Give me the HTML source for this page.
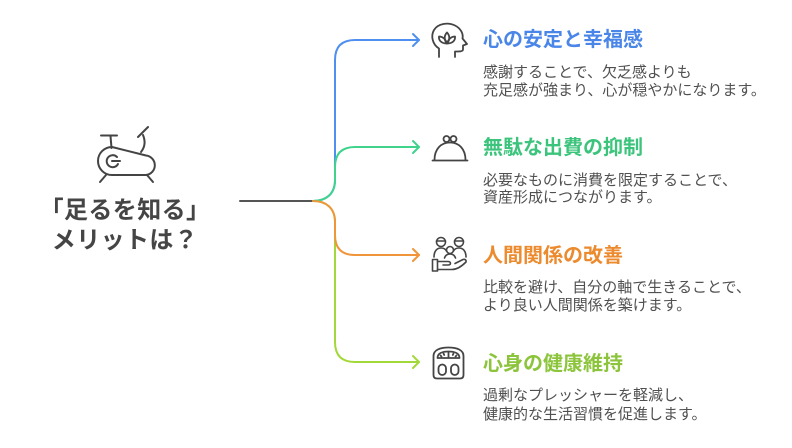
<!DOCTYPE html>
<html>
<head>
<meta charset="utf-8">
<style>
  html,body{margin:0;padding:0;background:#fff;}
  #c{position:relative;width:792px;height:448px;overflow:hidden;background:#fff;
     font-family:"Liberation Sans","Noto Sans CJK JP",sans-serif;}
  .t{position:absolute;left:483px;font-size:20px;line-height:20px;font-weight:700;white-space:nowrap;}
  .d{position:absolute;left:483px;font-size:15px;line-height:18px;color:#505050;white-space:nowrap;}
  .main{position:absolute;left:25px;width:200px;text-align:center;font-size:24px;line-height:30px;font-weight:700;color:#454545;white-space:nowrap;letter-spacing:0.4px;}
  svg{position:absolute;left:0;top:0;}
</style>
</head>
<body>
<div id="c">
<svg width="792" height="448" viewBox="0 0 792 448" fill="none" stroke-linecap="round" stroke-linejoin="round">
  <path d="M240,201 L313,201" stroke="#555" stroke-width="2"/>
  <path d="M313,201 C326,201 335,194 335,180 L335,60 Q335,40 355,40 L419,40" stroke="#4f8ff0" stroke-width="2"/>
  <path d="M413,34 L419,40 L413,46" stroke="#4f8ff0" stroke-width="2"/>
  <path d="M313,201 C326,201 335,208 335,222 L335,342 Q335,362 355,362 L419,362" stroke="#a3d83a" stroke-width="2"/>
  <path d="M413,356 L419,362 L413,368" stroke="#a3d83a" stroke-width="2"/>
  <path d="M313,201 C326,201 335,194 335,180 L335,167 Q335,147 355,147 L419,147" stroke="#3fd38c" stroke-width="2"/>
  <path d="M413,141 L419,147 L413,153" stroke="#3fd38c" stroke-width="2"/>
  <path d="M313,201 C326,201 335,208 335,222 L335,235 Q335,255 355,255 L419,255" stroke="#f0953a" stroke-width="2"/>
  <path d="M413,249 L419,255 L413,261" stroke="#f0953a" stroke-width="2"/>

  <g stroke="#444" stroke-width="2">
    <path d="M112,147 L146,155.5 A9.8,9.8 0 0 1 146,175 L112,175 A14,14 0 0 1 112,147 Z"/>
    <path d="M117,157 A6,6 0 1 0 118,164"/>
    <path d="M112,161 L120,161"/>
    <path d="M101,135.5 L117,135.5"/>
    <path d="M110.5,136 L111.5,148"/>
    <path d="M141,152 C145,147 145.5,141 143,135"/>
    <path d="M138,137 L148,127"/>
    <path d="M106,175 L100,182"/>
    <path d="M147,175 L153,182"/>
  </g>

  <g stroke="#444" stroke-width="1.8">
    <path d="M439,57 L439,48.5 C432.5,44.5 430.5,36 434,30 C438,23.5 448,22 455,25.5 C461,28.5 463.5,34 462.5,38.5 L467,44 L463,45.5 L463,49.5 C463,51 461,51.5 458,51.5 L455,51.5 L455,57"/>
    <path d="M447,43.5 C443.5,39.5 444.5,35 447,32.5 C449.5,35 450.5,39.5 447,43.5 Z"/>
    <path d="M447,43.5 C441.5,43.5 438.5,40.5 439,36.5 C442.5,36.5 445.5,39 447,43.5"/>
    <path d="M447,43.5 C452.5,43.5 455.5,40.5 455,36.5 C451.5,36.5 448.5,39 447,43.5"/>
  </g>

  <g stroke="#444" stroke-width="1.8">
    <path d="M432.5,160.5 L467.5,160.5"/>
    <path d="M434.5,160 C434.5,149 441,142.5 450,142.5 C459,142.5 465.5,149 465.5,160"/>
    <circle cx="446.5" cy="139" r="3"/>
    <circle cx="453.5" cy="139" r="3"/>
  </g>

  <g stroke="#444" stroke-width="1.6">
    <circle cx="441" cy="242" r="4.5"/>
    <path d="M436.5,241 L445.5,241"/>
    <circle cx="459" cy="242" r="4.5"/>
    <path d="M454.5,241 L463.5,241"/>
    <circle cx="450" cy="250" r="3.5"/>
    <path d="M434,257 C434,251 437,248 441,248 C443.5,248 445.5,249 446.5,251"/>
    <path d="M466,257 C466,251 463,248 459,248 C456.5,248 454.5,249 453.5,251"/>
    <path d="M444.5,258 C445.5,255 447.5,254 450,254 C452.5,254 454.5,255 455.5,258"/>
    <rect x="432.5" y="259.5" width="5" height="11.5"/>
    <path d="M437.5,261.5 L448,261.5 C451,261.5 451.5,265 448,265 L443,265"/>
    <path d="M437.5,269.5 L452,269.5 C457,269.5 462,266 466,262 C466.5,260 465,259 463,259.5 L455,263.5"/>
  </g>

  <g stroke="#444" stroke-width="1.8">
    <path d="M433.5,375 L433.5,356 C433.5,350 440,347.5 448.5,347.5 C457,347.5 463.5,350 463.5,356 L463.5,375 C463.5,377.5 462,378.5 460,378.5 L437,378.5 C435,378.5 433.5,377.5 433.5,375 Z"/>
    <path d="M437.5,358 C437.5,353.5 442,351.5 448.5,351.5 C455,351.5 459.5,353.5 459.5,358 Z"/>
    <path d="M448.5,352.5 L448.5,357 M443.5,353.5 L444.2,355 M453.5,353.5 L452.8,355 M440.5,355.5 L441.5,356.5 M456.5,355.5 L455.5,356.5"/>
    <rect x="438.5" y="364.5" width="7.5" height="10.5" rx="3.7"/>
    <rect x="451" y="364.5" width="7.5" height="10.5" rx="3.7"/>
  </g>
</svg>

<div class="main" style="top:196px;">「足るを知る」</div>
<div class="main" style="top:226px;">メリットは？</div>

<div class="t" style="top:30px;color:#4a86e8;">心の安定と幸福感</div>
<div class="d" style="top:63.5px;">感謝することで、欠乏感よりも</div>
<div class="d" style="top:81.5px;">充足感が強まり、心が穏やかになります。</div>

<div class="t" style="top:137.5px;color:#3cc47c;">無駄な出費の抑制</div>
<div class="d" style="top:171.5px;">必要なものに消費を限定することで、</div>
<div class="d" style="top:189px;">資産形成につながります。</div>

<div class="t" style="top:246px;color:#ec8a2e;">人間関係の改善</div>
<div class="d" style="top:279px;">比較を避け、自分の軸で生きることで、</div>
<div class="d" style="top:297px;">より良い人間関係を築けます。</div>

<div class="t" style="top:354px;color:#8cc43c;">心身の健康維持</div>
<div class="d" style="top:387px;">過剰なプレッシャーを軽減し、</div>
<div class="d" style="top:405.5px;">健康的な生活習慣を促進します。</div>
</div>
</body>
</html>
